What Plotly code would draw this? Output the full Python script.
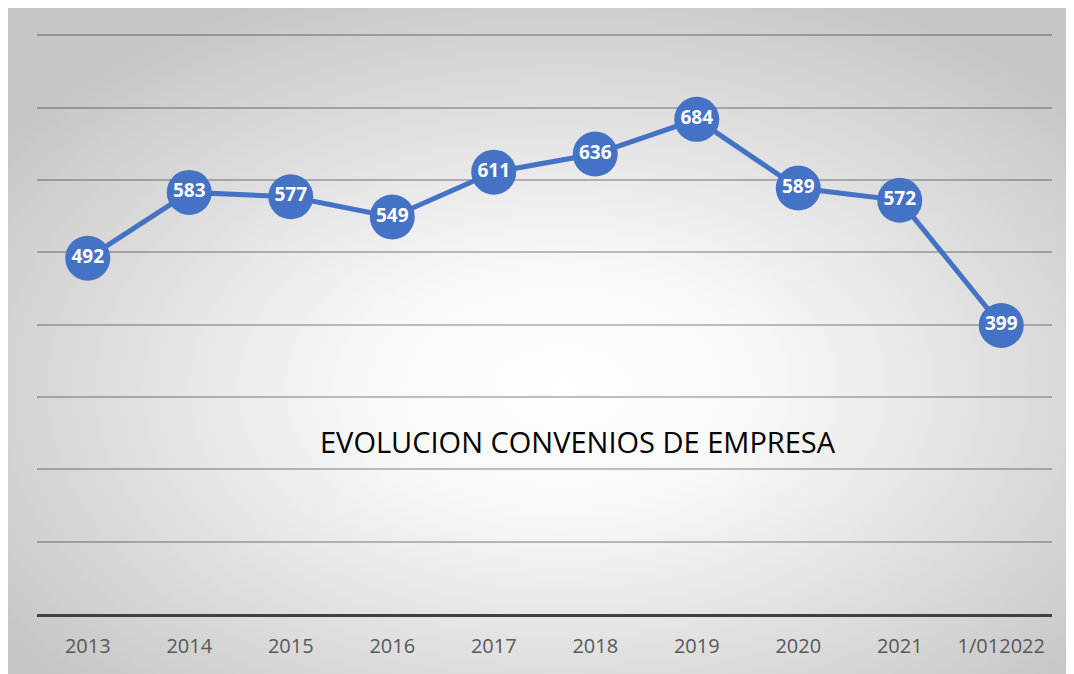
import base64
import plotly.graph_objects as go

years = ["2013", "2014", "2015", "2016", "2017", "2018", "2019", "2020", "2021", "1/012022"]
convenios = [492, 583, 577, 549, 611, 636, 684, 589, 572, 399]

title_text = "EVOLUCION CONVENIOS DE EMPRESA"

# the page puts the figure 8px in from the corner, so the figure is 8px smaller
fig_w, fig_h = 1066, 666

# radial gradient backdrop (white centre, grey edges) as an inline svg
svg = """<svg xmlns='http://www.w3.org/2000/svg' width='1066' height='666' viewBox='0 0 1066 666' preserveAspectRatio='none'>
<defs><radialGradient id='g' cx='0.52' cy='0.57' r='0.64'>
<stop offset='0' stop-color='#ffffff'/><stop offset='0.3' stop-color='#f8f8f8'/>
<stop offset='1' stop-color='#c6c6c6'/></radialGradient></defs>
<rect width='1066' height='666' fill='url(#g)'/></svg>"""
bg_src = "data:image/svg+xml;base64," + base64.b64encode(svg.encode()).decode()

fig = go.Figure()

fig.add_trace(
    go.Scatter(
        x=years,
        y=convenios,
        mode="lines+markers+text",
        text=[str(v) for v in convenios],
        textposition="middle center",
        textfont=dict(family="Open Sans", size=19, color="white", weight="bold"),
        line=dict(color="#4472C4", width=5),
        marker=dict(size=45, color="#4472C4"),
        cliponaxis=False,
        hoverinfo="x+y",
    )
)

fig.add_annotation(
    text=title_text,
    xref="paper",
    yref="paper",
    x=0.533,
    y=0.298,
    xanchor="center",
    yanchor="middle",
    showarrow=False,
    font=dict(family="Open Sans", size=29, color="black"),
)

fig.add_layout_image(
    source=bg_src,
    xref="paper",
    yref="paper",
    x=-29 / 1015,
    y=(666 - 60) / 580,
    sizex=fig_w / 1015,
    sizey=fig_h / 580,
    xanchor="left",
    yanchor="top",
    sizing="stretch",
    layer="below",
)

fig.update_layout(
    width=fig_w,
    height=fig_h,
    showlegend=False,
    paper_bgcolor="white",
    plot_bgcolor="rgba(0,0,0,0)",
    margin=dict(l=29, r=22, t=26, b=60),
    xaxis=dict(
        range=[-0.5, 9.5],
        showgrid=False,
        showline=True,
        linecolor="#404040",
        linewidth=3,
        ticks="",
        tickfont=dict(family="Open Sans", size=20, color="#595959"),
        ticklabelstandoff=12,
        fixedrange=True,
    ),
    yaxis=dict(
        range=[0, 802],
        tickvals=[100, 200, 300, 400, 500, 600, 700, 800],
        showticklabels=False,
        showgrid=True,
        gridcolor="rgba(0,0,0,0.25)",
        gridwidth=1.5,
        zeroline=False,
        fixedrange=True,
    ),
)

fig.write_html("out.html")
